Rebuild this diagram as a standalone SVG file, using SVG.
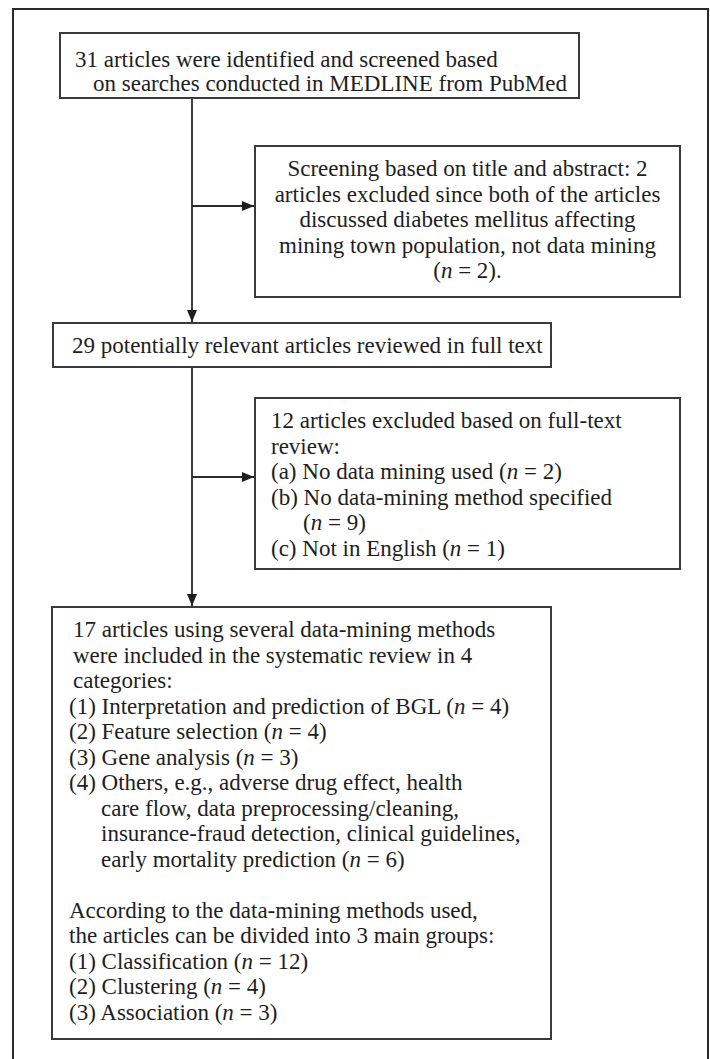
<svg xmlns="http://www.w3.org/2000/svg" width="710" height="1059" viewBox="0 0 710 1059">
<style>
.box{fill:#fff;stroke:#3a3a3a;stroke-width:2}
.t{font-family:"Liberation Serif","Times New Roman",serif;font-size:23px;fill:#1e1e1e}
.c{text-anchor:middle}
.ln{stroke:#2a2a2a;stroke-width:1.8;fill:none}
.i{font-style:italic}
</style>
<defs>
<marker id="ah" viewBox="0 0 12 10" refX="12" refY="5" markerWidth="12" markerHeight="10" markerUnits="userSpaceOnUse" orient="auto">
<path d="M0,0 L12,5 L0,10 Z" fill="#1e1e1e"/>
</marker>
</defs>
<rect x="0" y="0" width="710" height="1059" fill="#fff"/>
<rect id="frame" x="13" y="9" width="695" height="1070" fill="none" stroke="#2a2a2a" stroke-width="2"/>
<g id="connectors">
<line class="ln" x1="192" y1="98" x2="192" y2="322" marker-end="url(#ah)"/>
<line class="ln" x1="192" y1="206" x2="254" y2="206" marker-end="url(#ah)"/>
<line class="ln" x1="192" y1="367" x2="192" y2="606" marker-end="url(#ah)"/>
<line class="ln" x1="192" y1="477" x2="254" y2="477" marker-end="url(#ah)"/>
</g>
<g id="n1">
<rect class="box" x="60" y="33" width="519" height="65"/>
<text class="t" x="75" y="67">31 articles were identified and screened based</text>
<text class="t" x="93" y="91">on searches conducted in MEDLINE from PubMed</text>
</g>
<g id="n2">
<rect class="box" x="255" y="146" width="425" height="151"/>
<text class="t c" x="467.5" y="176">Screening based on title and abstract: 2</text>
<text class="t c" x="467.5" y="201.5">articles excluded since both of the articles</text>
<text class="t c" x="467.5" y="227">discussed diabetes mellitus affecting</text>
<text class="t c" x="467.5" y="252.5">mining town population, not data mining</text>
<text class="t c" x="467.5" y="278">(<tspan class="i">n</tspan> = 2).</text>
</g>
<g id="n3">
<rect class="box" x="53" y="323" width="498" height="44"/>
<text class="t" x="72" y="353">29 potentially relevant articles reviewed in full text</text>
</g>
<g id="n4">
<rect class="box" x="255" y="398" width="425" height="171"/>
<text class="t" x="271" y="428">12 articles excluded based on full-text</text>
<text class="t" x="271" y="453.5">review:</text>
<text class="t" x="271" y="479">(a) No data mining used (<tspan class="i">n</tspan> = 2)</text>
<text class="t" x="271" y="504.5">(b) No data-mining method specified</text>
<text class="t" x="303" y="530">(<tspan class="i">n</tspan> = 9)</text>
<text class="t" x="271" y="555.5">(c) Not in English (<tspan class="i">n</tspan> = 1)</text>
</g>
<g id="n5">
<rect class="box" x="52" y="607" width="499" height="432"/>
<text class="t" x="73" y="637">17 articles using several data-mining methods</text>
<text class="t" x="73" y="662.5">were included in the systematic review in 4</text>
<text class="t" x="73" y="688">categories:</text>
<text class="t" x="69" y="713.5">(1) Interpretation and prediction of BGL (<tspan class="i">n</tspan> = 4)</text>
<text class="t" x="69" y="739">(2) Feature selection (<tspan class="i">n</tspan> = 4)</text>
<text class="t" x="69" y="764.5">(3) Gene analysis (<tspan class="i">n</tspan> = 3)</text>
<text class="t" x="69" y="790">(4) Others, e.g., adverse drug effect, health</text>
<text class="t" x="101" y="815.5">care flow, data preprocessing/cleaning,</text>
<text class="t" x="101" y="841">insurance-fraud detection, clinical guidelines,</text>
<text class="t" x="101" y="866.5">early mortality prediction (<tspan class="i">n</tspan> = 6)</text>
<text class="t" x="69" y="917.5">According to the data-mining methods used,</text>
<text class="t" x="69" y="943">the articles can be divided into 3 main groups:</text>
<text class="t" x="69" y="968.5">(1) Classification (<tspan class="i">n</tspan> = 12)</text>
<text class="t" x="69" y="994">(2) Clustering (<tspan class="i">n</tspan> = 4)</text>
<text class="t" x="69" y="1019.5">(3) Association (<tspan class="i">n</tspan> = 3)</text>
</g>
</svg>
